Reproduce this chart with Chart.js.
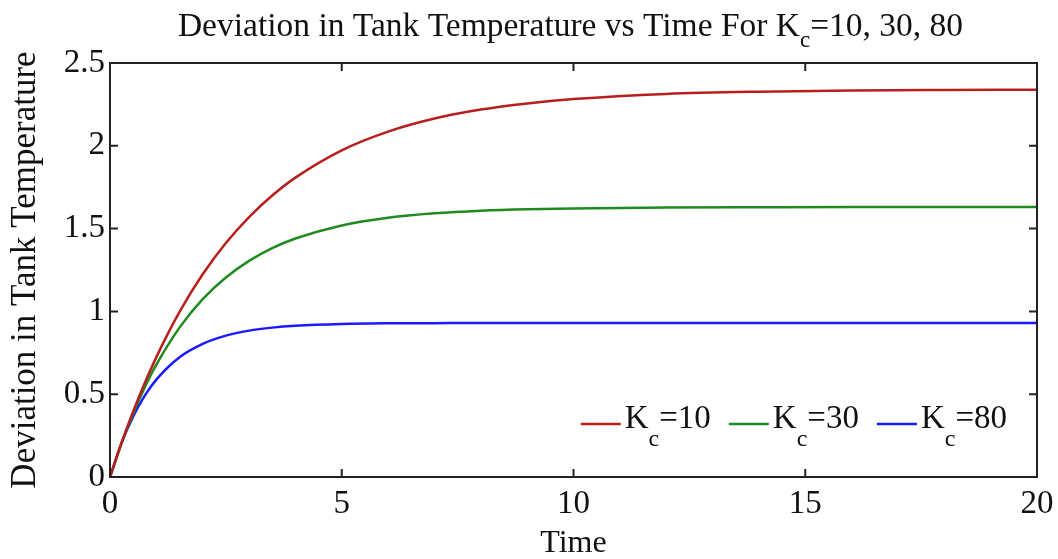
<!DOCTYPE html>
<html><head><meta charset="utf-8">
<script src="https://cdn.jsdelivr.net/npm/chart.js@4/dist/chart.umd.min.js"></script>
<style>html,body{margin:0;padding:0;background:#fff;overflow:hidden}</style>
</head><body>
<canvas id="c" width="1058" height="559"></canvas>
<script>
// ---- data ----
const times = [0, 0.25, 0.5, 0.75, 1, 1.5, 2, 2.5, 3, 3.5, 4, 5, 6, 7, 8, 9, 10, 12, 14, 16, 18, 20];
const kc10 = [0, 0.207, 0.396, 0.567, 0.724, 0.997, 1.224, 1.413, 1.570, 1.700, 1.808, 1.973, 2.086, 2.165, 2.219, 2.256, 2.282, 2.313, 2.327, 2.334, 2.337, 2.339];
const kc30 = [0, 0.205, 0.384, 0.541, 0.678, 0.902, 1.074, 1.205, 1.305, 1.382, 1.440, 1.519, 1.565, 1.592, 1.608, 1.617, 1.622, 1.627, 1.629, 1.630, 1.630, 1.630];
const kc80 = [0, 0.206, 0.366, 0.491, 0.588, 0.723, 0.804, 0.854, 0.884, 0.902, 0.913, 0.924, 0.928, 0.929, 0.930, 0.930, 0.930, 0.930, 0.930, 0.930, 0.930, 0.930];
const kcValues = [10, 30, 80];
const seriesColors = ['#b81e1e', '#1f8a1f', '#1a1aff'];
const xTicks = [0, 5, 10, 15, 20];
const yTicks = [0, 0.5, 1, 1.5, 2, 2.5];
const titleMain = 'Deviation in Tank Temperature vs Time For K';
const titleSub = 'c';
const titleTail = '=10, 30, 80';
const xTitle = 'Time';
const yTitle = 'Deviation in Tank Temperature';

const FONT = '"Liberation Serif", "Times New Roman", serif';
const series = [kc10, kc30, kc80];

const datasets = series.map((vals, i) => ({
  label: 'Kc=' + kcValues[i],
  kc: kcValues[i],
  data: times.map((t, j) => ({x: t, y: vals[j]})),
  borderColor: seriesColors[i],
  borderWidth: 2.5,
  pointRadius: 0,
  fill: false,
  cubicInterpolationMode: 'monotone'
}));

function drawSubText(ctx, x, baseY, main, sub, tail, mainSize, subSize, subDrop) {
  ctx.font = mainSize + 'px ' + FONT;
  ctx.fillText(main, x, baseY);
  x += ctx.measureText(main).width;
  ctx.font = subSize + 'px ' + FONT;
  ctx.fillText(sub, x, baseY + subDrop);
  x += ctx.measureText(sub).width;
  ctx.font = mainSize + 'px ' + FONT;
  ctx.fillText(tail, x, baseY);
  x += ctx.measureText(tail).width;
  return x;
}
function measureSubText(ctx, main, sub, tail, mainSize, subSize) {
  ctx.font = mainSize + 'px ' + FONT;
  let w = ctx.measureText(main).width + ctx.measureText(tail).width;
  ctx.font = subSize + 'px ' + FONT;
  return w + ctx.measureText(sub).width;
}

const decor = {
  id: 'decor',
  afterDraw(chart) {
    const {ctx, chartArea: a, scales} = chart;
    ctx.save();
    // frame
    ctx.strokeStyle = '#222';
    ctx.lineWidth = 2;
    ctx.strokeRect(a.left, a.top, a.right - a.left, a.bottom - a.top);
    // inward ticks on all four sides
    ctx.beginPath();
    scales.x.ticks.forEach(t => {
      const p = scales.x.getPixelForValue(t.value);
      ctx.moveTo(p, a.bottom); ctx.lineTo(p, a.bottom - 8);
      ctx.moveTo(p, a.top); ctx.lineTo(p, a.top + 8);
    });
    scales.y.ticks.forEach(t => {
      const p = scales.y.getPixelForValue(t.value);
      ctx.moveTo(a.left, p); ctx.lineTo(a.left + 8, p);
      ctx.moveTo(a.right, p); ctx.lineTo(a.right - 8, p);
    });
    ctx.stroke();

    // title with subscript
    ctx.fillStyle = '#111';
    ctx.textBaseline = 'alphabetic';
    ctx.textAlign = 'left';
    const tw = measureSubText(ctx, titleMain, titleSub, titleTail, 33.5, 23);
    const cx = (a.left + a.right) / 2 - 3;
    drawSubText(ctx, cx - tw / 2, 36, titleMain, titleSub, titleTail, 33.5, 23, 11);

    // legend (inside, bottom right)
    const items = chart.data.datasets.map(ds => ({
      color: ds.borderColor,
      w: 44 + measureSubText(ctx, 'K', 'c', '=' + ds.kc, 33, 24),
      kc: ds.kc
    }));
    const gap = 18;
    const total = items.reduce((s, it) => s + it.w, 0) + gap * (items.length - 1);
    let x = a.right - 30 - total;
    const ly = 424;
    items.forEach(it => {
      ctx.strokeStyle = it.color;
      ctx.lineWidth = 2.5;
      ctx.beginPath();
      ctx.moveTo(x, ly); ctx.lineTo(x + 40, ly);
      ctx.stroke();
      ctx.fillStyle = '#111';
      drawSubText(ctx, x + 44, 428, 'K', 'c', '=' + it.kc, 33, 24, 18);
      x += it.w + gap;
    });
    ctx.restore();
  }
};

new Chart(document.getElementById('c'), {
  type: 'line',
  data: {datasets},
  options: {
    responsive: false,
    animation: false,
    layout: {padding: {left: 0, right: 21, top: 63, bottom: 0}},
    plugins: {legend: {display: false}, title: {display: false}, tooltip: {enabled: false}},
    scales: {
      x: {
        type: 'linear',
        min: 0, max: 20,
        afterBuildTicks: s => { s.ticks = xTicks.map(v => ({value: v})); },
        afterFit: s => { s.height = 82; s.paddingLeft = 0; s.paddingRight = 0; },
        grid: {display: false, drawTicks: false},
        border: {display: false},
        ticks: {
          color: '#111',
          padding: 11,
          font: {family: FONT, size: 33, lineHeight: 1},
          maxRotation: 0,
          callback: v => String(v)
        },
        title: {display: true, text: xTitle, color: '#111',
          font: {family: FONT, size: 32, lineHeight: 1}, padding: {top: 0, bottom: -1}}
      },
      y: {
        type: 'linear',
        min: 0, max: 2.5,
        afterBuildTicks: s => { s.ticks = yTicks.map(v => ({value: v})); },
        afterFit: s => { s.width = 110; s.paddingTop = 0; s.paddingBottom = 0; },
        grid: {display: false, drawTicks: false},
        border: {display: false},
        ticks: {
          color: '#111',
          padding: 5,
          font: {family: FONT, size: 33, lineHeight: 1},
          callback: v => String(v)
        },
        title: {display: true, text: yTitle, color: '#111',
          font: {family: FONT, size: 35, lineHeight: 1}, padding: {top: 8, bottom: 0}}
      }
    }
  },
  plugins: [decor]
});
</script>
</body></html>
